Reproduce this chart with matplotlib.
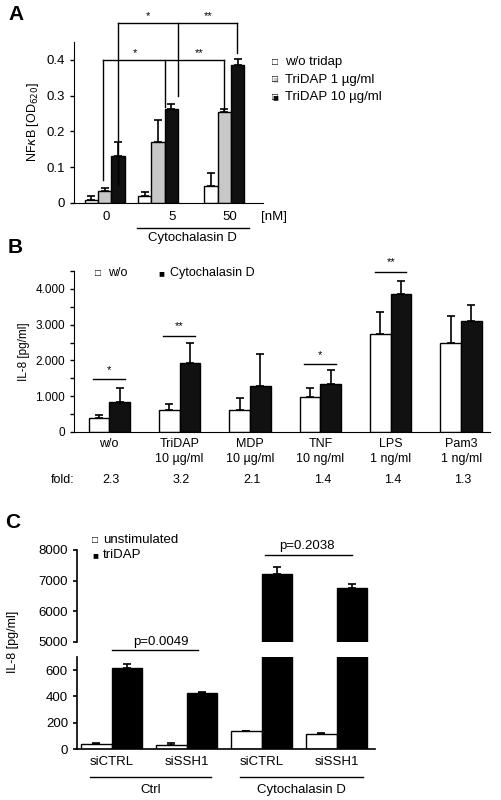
import matplotlib
matplotlib.use("Agg")
import matplotlib.pyplot as plt
import numpy as np

plt.rcParams['font.family'] = ['Liberation Sans', 'DejaVu Sans']

# ---- Panel A data
a_groups = ["0", "5", "50"]
a_white = [0.007, 0.02, 0.047]
a_white_err = [0.012, 0.01, 0.036]
a_gray = [0.033, 0.17, 0.255]
a_gray_err = [0.01, 0.062, 0.008]
a_black = [0.13, 0.262, 0.387]
a_black_err = [0.04, 0.015, 0.015]
a_legend = ["w/o tridap", "TriDAP 1 µg/ml", "TriDAP 10 µg/ml"]

# ---- Panel B data
b_cats = ["w/o", "TriDAP\n10 µg/ml", "MDP\n10 µg/ml", "TNF\n10 ng/ml", "LPS\n1 ng/ml", "Pam3\n1 ng/ml"]
b_white = [380, 620, 620, 980, 2740, 2490]
b_white_err = [90, 160, 320, 260, 610, 750]
b_black = [850, 1930, 1280, 1330, 3870, 3100]
b_black_err = [380, 550, 900, 410, 340, 450]
b_fold = ["2.3", "3.2", "2.1", "1.4", "1.4", "1.3"]
b_sig = ["*", "**", "", "*", "**", ""]

# ---- Panel C data
c_cats = ["siCTRL", "siSSH1", "siCTRL", "siSSH1"]
c_white = [35, 33, 135, 115]
c_white_err = [12, 10, 3, 3]
c_black = [615, 425, 7220, 6750]
c_black_err = [28, 10, 240, 150]

fig = plt.figure(figsize=(5.01, 8.0), dpi=100)
W, H = 501, 800
def ax_px(l, t, r, b):
    return fig.add_axes([l / W, 1 - b / H, (r - l) / W, (b - t) / H])
def up(e):
    e = np.asarray(e)
    return [np.zeros_like(e), e]

ekw = dict(ecolor='black', elinewidth=1.2, capsize=3, capthick=1.2)

# ================= Panel A
axA = ax_px(74, 42, 263, 203)
bw = 1.0
gx = np.array([0.0, 4.0, 9.0])
axA.bar(gx - bw, a_white, bw, yerr=up(a_white_err), color='white', edgecolor='black', lw=1, error_kw=ekw)
axA.bar(gx, a_gray, bw, yerr=up(a_gray_err), color='#c8c8c8', edgecolor='black', lw=1, error_kw=ekw)
axA.bar(gx + bw, a_black, bw, yerr=up(a_black_err), color='#111111', edgecolor='black', lw=1, error_kw=ekw)
axA.set_xlim(-2.3, 11.9)
axA.set_ylim(0, 0.45)
axA.set_yticks([0, 0.1, 0.2, 0.3, 0.4])
axA.set_yticklabels(["0", "0.1", "0.2", "0.3", "0.4"])
axA.set_xticks([])
for s in ['top', 'right']:
    axA.spines[s].set_visible(False)
axA.tick_params(axis='y', labelsize=9.5, length=3, width=1)
axA.set_ylabel(r"NF$\kappa$B [OD$_{620}$]", fontsize=9)
for x, lab in zip([0.1, 5.1, 9.4], a_groups):
    axA.text(x, -0.022, lab, ha='center', va='top', fontsize=9.5, clip_on=False)
axA.text(12.7, -0.022, "[nM]", ha='center', va='top', fontsize=9.5, clip_on=False)
# brackets
def bracket(ax, xs, drops, y, **kw):
    ax.plot([xs[0], xs[-1]], [y, y], color='black', lw=1, clip_on=False)
    for x, d in zip(xs, drops):
        ax.plot([x, x], [y, d], color='black', lw=1, clip_on=False)
bracket(axA, [-0.12, 4.5, 9.0], [0.064, 0.268, 0.26], 0.40)
bracket(axA, [1.0, 5.5, 9.95], [0.05, 0.30, 0.42], 0.503)
axA.text(2.25, 0.405, "*", ha='center', va='bottom', fontsize=8)
axA.text(7.1, 0.405, "**", ha='center', va='bottom', fontsize=8)
axA.text(3.25, 0.508, "*", ha='center', va='bottom', fontsize=8, clip_on=False)
axA.text(7.8, 0.508, "**", ha='center', va='bottom', fontsize=8, clip_on=False)
fig.add_artist(plt.Line2D([137 / W, 249 / W], [1 - 228 / H] * 2, color='black', lw=1))
fig.text(192 / W, 1 - 238 / H, "Cytochalasin D", ha='center', va='center', fontsize=9.5)
for i, (lab, fc) in enumerate(zip(a_legend, ['white', '#c8c8c8', '#111111'])):
    yy = 1 - (62 + 17.5 * i) / H
    fig.text(275 / W, yy, "■", color=fc, ha='center', va='center', fontsize=7)
    fig.text(275 / W, yy, "□", color='black', ha='center', va='center', fontsize=7)
    fig.text(285 / W, yy, lab, ha='left', va='center', fontsize=9.5)
fig.text(8 / W, 1 - 15 / H, "A", fontsize=15, fontweight='bold', va='center')

# ================= Panel B
axB = ax_px(74, 271, 490, 432)
bwB = 0.294
xb = np.arange(len(b_cats))
axB.bar(xb - bwB / 2, b_white, bwB, yerr=up(b_white_err), color='white', edgecolor='black', lw=1, error_kw=ekw)
axB.bar(xb + bwB / 2, b_black, bwB, yerr=up(b_black_err), color='#111111', edgecolor='black', lw=1, error_kw=ekw)
axB.set_xlim(-0.5, 5.41)
axB.set_ylim(0, 4500)
axB.set_yticks([0, 1000, 2000, 3000, 4000])
axB.set_yticklabels(["0", "1.000", "2.000", "3.000", "4.000"])
axB.set_yticks([500, 1500, 2500, 3500, 4500], minor=True)
axB.set_xticks(xb)
axB.set_xticklabels(b_cats, fontsize=9, linespacing=1.4)
axB.tick_params(axis='x', length=0, pad=4)
axB.tick_params(axis='y', labelsize=8.5, length=3, width=1)
axB.tick_params(axis='y', which='minor', length=3, width=1)
for s in ['top', 'right']:
    axB.spines[s].set_visible(False)
axB.set_ylabel("IL-8 [pg/ml]", fontsize=8.5)
sig_y = [1477, 2690, 0, 1900, 4485]
for i, s in enumerate(b_sig):
    if s:
        axB.plot([i - 0.23, i + 0.22], [sig_y[i], sig_y[i]], color='black', lw=1, clip_on=False)
        axB.text(i, sig_y[i] + 120, s, ha='center', va='bottom', fontsize=8, clip_on=False)
fig.text(63 / W, 1 - 480 / H, "fold:", ha='center', va='center', fontsize=9)
for i, f in enumerate(b_fold):
    xfig = (74 + (i + 0.5) * (416 / 5.91)) / W
    fig.text(xfig + 2 / W, 1 - 480 / H, f, ha='center', va='center', fontsize=9)
fig.text(98 / W, 1 - 273 / H, "□", ha='center', va='center', fontsize=7)
fig.text(108 / W, 1 - 273 / H, "w/o", ha='left', va='center', fontsize=9)
fig.text(161 / W, 1 - 273 / H, "■", ha='center', va='center', fontsize=7)
fig.text(170 / W, 1 - 273 / H, "Cytochalasin D", ha='left', va='center', fontsize=9)
fig.text(8 / W, 1 - 247 / H, "B", fontsize=15, fontweight='bold', va='center')

# ================= Panel C
bwC = 0.41
xc = np.arange(len(c_cats))
axU = ax_px(77, 550, 375, 642)
axL = ax_px(77, 657, 375, 749)
for ax in (axU, axL):
    ax.bar(xc - bwC / 2, c_white, bwC, yerr=up(c_white_err), color='white', edgecolor='black', lw=1, error_kw=ekw)
    ax.bar(xc + bwC / 2, c_black, bwC, yerr=up(c_black_err), color='black', edgecolor='black', lw=1, error_kw=ekw)
    ax.set_xlim(-0.46, 3.51)
    for s in ['top', 'right']:
        ax.spines[s].set_visible(False)
    ax.tick_params(axis='y', labelsize=9.5, length=3, width=1.2)
    ax.spines['left'].set_linewidth(1.2)
axU.set_ylim(5000, 8000)
axU.set_yticks([5000, 6000, 7000, 8000])
axU.spines['bottom'].set_visible(False)
axU.set_xticks([])
axL.set_ylim(0, 700)
axL.set_yticks([0, 200, 400, 600])
axL.spines['bottom'].set_linewidth(1.2)
axL.set_xticks(xc)
axL.set_xticklabels(c_cats, fontsize=9.5)
axL.tick_params(axis='x', length=0, pad=5)
axL.plot([0, 1.15], [753, 753], color='black', lw=1, clip_on=False)
axL.text(0.66, 770, "p=0.0049", ha='center', va='bottom', fontsize=9.5, clip_on=False)
axU.plot([2.04, 3.2], [7840, 7840], color='black', lw=1, clip_on=False)
axU.text(2.6, 7950, "p=0.2038", ha='center', va='bottom', fontsize=9.5, clip_on=False)
fig.text(13 / W, 1 - 642 / H, "IL-8 [pg/ml]", rotation=90, ha='center', va='center', fontsize=9)
fig.text(95 / W, 1 - 540 / H, "□", ha='center', va='center', fontsize=7)
fig.text(103 / W, 1 - 540 / H, "unstimulated", ha='left', va='center', fontsize=9.5)
fig.text(95 / W, 1 - 555 / H, "■", ha='center', va='center', fontsize=7)
fig.text(103 / W, 1 - 555 / H, "triDAP", ha='left', va='center', fontsize=9.5)
for (l, r, lab) in [(90, 211, "Ctrl"), (240, 363, "Cytochalasin D")]:
    fig.add_artist(plt.Line2D([l / W, r / W], [1 - 777 / H] * 2, color='black', lw=1))
    fig.text((l + r) / 2 / W, 1 - 790 / H, lab, ha='center', va='center', fontsize=9.5)
fig.text(5 / W, 1 - 522 / H, "C", fontsize=15, fontweight='bold', va='center')

fig.savefig("out.png", dpi=100)
